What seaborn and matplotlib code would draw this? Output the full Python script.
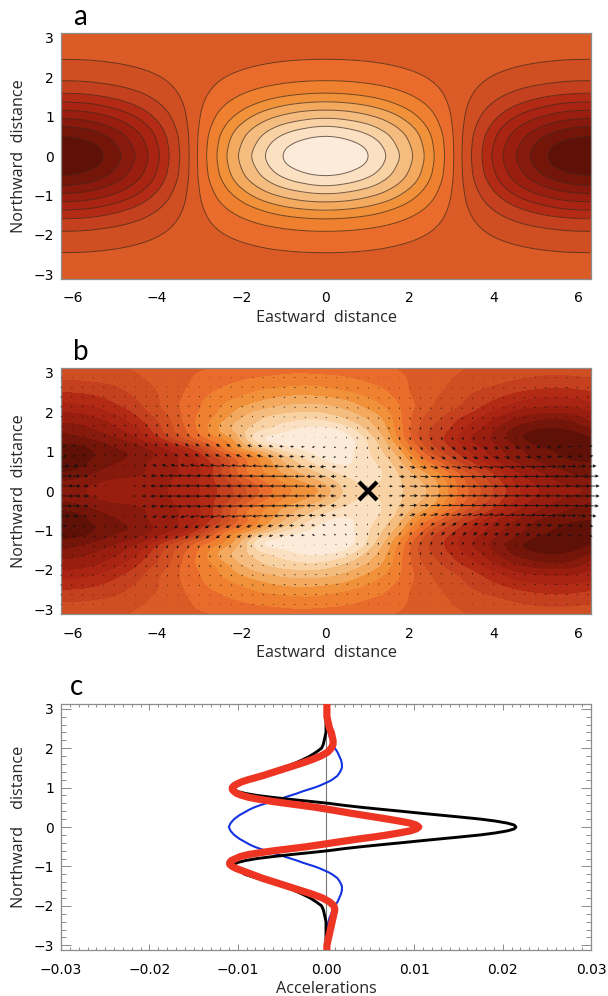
import numpy as np
import matplotlib
matplotlib.use('Agg')
import matplotlib.pyplot as plt
import matplotlib.tri as mtri
from matplotlib.colors import ListedColormap, BoundaryNorm
from matplotlib.ticker import MultipleLocator
import seaborn as sns

sns.set_theme(style='ticks')
plt.rcParams['font.family'] = ['DejaVu Sans']

# band colours, dark to light
band_colors = ['#5F1007', '#74150A', '#88190D', '#9A1E10', '#A92412', '#B42B15', '#C5401E', '#CF4E22', '#DA5B26',
               '#E96C2C', '#EF8030', '#F1923B', '#F3A95E', '#F5BC7F', '#F9D2A4', '#FBE0C2', '#FDEBDA']
band_edges = [-150, -88, -76, -64, -51, -39, -28, -16, -5, 5, 16, 28, 39, 51, 64, 76, 88, 150]
line_levels = [-88, -76, -64, -51, -39, -28, -16, -5, 5, 16, 28, 39, 51, 64, 76, 88]

grid_x = [-6.28, -5.76, -5.24, -4.71, -4.19, -3.67, -3.14, -2.62, -2.09, -1.57, -1.05, -0.52, 0,
          0.52, 1.05, 1.57, 2.09, 2.62, 3.14, 3.67, 4.19, 4.71, 5.24, 5.76, 6.28]
grid_y = [0, 0.26, 0.52, 0.79, 1.05, 1.31, 1.57, 1.83, 2.09, 2.36, 2.62, 2.88, 3.14]

# panel a height, northern half (percent of peak)
height_a = [
    [-100, -97, -87, -71, -50, -26, 0, 26, 50, 71, 87, 97, 100, 97, 87, 71, 50, 26, 0, -26, -50, -71, -87, -97, -100],
    [-97, -93, -84, -68, -48, -25, 0, 25, 48, 68, 84, 93, 97, 93, 84, 68, 48, 25, 0, -25, -48, -68, -84, -93, -97],
    [-87, -84, -76, -62, -44, -23, 0, 23, 44, 62, 76, 84, 87, 84, 76, 62, 44, 23, 0, -23, -44, -62, -76, -84, -87],
    [-74, -71, -64, -52, -37, -19, 0, 19, 37, 52, 64, 71, 74, 71, 64, 52, 37, 19, 0, -19, -37, -52, -64, -71, -74],
    [-58, -56, -50, -41, -29, -15, 0, 15, 29, 41, 50, 56, 58, 56, 50, 41, 29, 15, 0, -15, -29, -41, -50, -56, -58],
    [-42.5, -41, -36.8, -30, -21.3, -11, 0, 11, 21.3, 30, 36.8, 41, 42.5, 41, 36.8, 30, 21.3, 11, 0, -11, -21.3, -30, -36.8, -41, -42.5],
    [-29.1, -28.1, -25.2, -20.6, -14.6, -7.5, 0, 7.5, 14.6, 20.6, 25.2, 28.1, 29.1, 28.1, 25.2, 20.6, 14.6, 7.5, 0, -7.5, -14.6, -20.6, -25.2, -28.1, -29.1],
    [-18.6, -18, -16.1, -13.2, -9.3, -4.8, 0, 4.8, 9.3, 13.2, 16.1, 18, 18.6, 18, 16.1, 13.2, 9.3, 4.8, 0, -4.8, -9.3, -13.2, -16.1, -18, -18.6],
    [-11.2, -10.8, -9.7, -7.9, -5.6, -2.9, 0, 2.9, 5.6, 7.9, 9.7, 10.8, 11.2, 10.8, 9.7, 7.9, 5.6, 2.9, 0, -2.9, -5.6, -7.9, -9.7, -10.8, -11.2],
    [-6.2, -6, -5.4, -4.4, -3.1, -1.6, 0, 1.6, 3.1, 4.4, 5.4, 6, 6.2, 6, 5.4, 4.4, 3.1, 1.6, 0, -1.6, -3.1, -4.4, -5.4, -6, -6.2],
    [-3.3, -3.2, -2.9, -2.3, -1.7, -.9, 0, .9, 1.7, 2.3, 2.9, 3.2, 3.3, 3.2, 2.9, 2.3, 1.7, .9, 0, -.9, -1.7, -2.3, -2.9, -3.2, -3.3],
    [-1.6, -1.5, -1.4, -1.1, -.8, -.4, 0, .4, .8, 1.1, 1.4, 1.5, 1.6, 1.5, 1.4, 1.1, .8, .4, 0, -.4, -.8, -1.1, -1.4, -1.5, -1.6],
    [-.7, -.7, -.6, -.5, -.4, -.2, 0, .2, .4, .5, .6, .7, .7, .7, .6, .5, .4, .2, 0, -.2, -.4, -.5, -.6, -.7, -.7],
]

# panel b height, northern half (percent of peak)
height_b = [
    [-68, -65, -60, -58, -57, -50, -42, -30, -13, 5, 22, 32, 45, 68, 76, 70, 58, 42, 15, -5, -25, -42, -55, -62, -66],
    [-78, -72, -65, -62, -60, -52, -42, -28, -8, 12, 28, 40, 55, 72, 78, 70, 55, 38, 12, -10, -30, -48, -60, -70, -75],
    [-90, -85, -75, -70, -63, -55, -44, -26, 5, 25, 40, 56, 72, 82, 80, 68, 45, 25, 0, -22, -42, -58, -70, -78, -82],
    [-95, -92, -82, -75, -65, -55, -42, -22, 5, 28, 50, 72, 88, 90, 78, 60, 30, 3, -20, -40, -58, -72, -82, -88, -90],
    [-92, -92, -82, -75, -65, -50, -30, 0, 28, 52, 75, 88, 96, 92, 75, 50, 15, -15, -33, -50, -65, -78, -88, -92, -93],
    [-85, -80, -72, -62, -45, -22, 0, 20, 45, 82, 92, 98, 98, 92, 70, 38, 2, -22, -40, -58, -73, -88, -97, -96, -90],
    [-72, -68, -60, -48, -30, -8, 12, 35, 55, 72, 82, 90, 90, 80, 58, 32, 0, -20, -35, -52, -70, -84, -90, -88, -78],
    [-60, -58, -50, -38, -22, -5, 14, 30, 48, 62, 70, 74, 72, 62, 48, 28, 2, -14, -28, -42, -58, -70, -76, -75, -62],
    [-47, -45, -38, -28, -14, 0, 12, 25, 38, 48, 55, 58, 56, 48, 37, 23, 5, -8, -18, -30, -42, -52, -56, -56, -48],
    [-35, -33, -28, -20, -10, 0, 10, 20, 28, 35, 40, 42, 40, 35, 27, 17, 4, -5, -13, -22, -30, -37, -40, -40, -36],
    [-24, -23, -20, -14, -7, 0, 7, 14, 20, 25, 28, 30, 28, 24, 19, 12, 3, -3, -9, -15, -20, -25, -28, -28, -25],
    [-15, -14, -12, -9, -4, 0, 5, 9, 13, 16, 18, 19, 18, 16, 12, 8, 3, -2, -6, -10, -13, -16, -18, -18, -16],
    [-10, -9, -8, -5, -2, 0, 3, 5, 8, 10, 11, 12, 11, 10, 8, 5, 2, -1, -4, -6, -8, -10, -11, -11, -10],
]

# wind arrows, northern half, lengths in pixels
wind_x = [-6.25, -6, -5.75, -5.5, -5.25, -5, -4.75, -4.5, -4.25, -4, -3.75, -3.5, -3.25, -3, -2.75, -2.5, -2.25,
          -2, -1.75, -1.5, -1.25, -1, -0.75, -0.5, -0.25, 0, 0.25, 0.5, 0.75, 1, 1.25, 1.5, 1.75, 2, 2.25, 2.5,
          2.75, 3, 3.25, 3.5, 3.75, 4, 4.25, 4.5, 4.75, 5, 5.25, 5.5, 5.75, 6, 6.25]
wind_y = [0.125, 0.375, 0.625, 0.875, 1.125, 1.375, 1.625, 1.875, 2.125, 2.375, 2.625, 2.875]
wind_u = [
    [11, 8, 5.4, 3.4, 1.4, 0, -1.4, -2.7, -4.7, -6.8, -8.8, -10.8, -12.2, -13.5, -14.2, -14.9, -14.9, -14.9, -14.9, -14.9, -14.2, -13.5, -12.2, -10.8, -9.5, -8.1, -6.1, -4, -2, 0, 2, 4, 6.1, 8.1, 9.5, 10.8, 12.2, 13.5, 14.2, 14.9, 14.9, 14.9, 14.9, 14.9, 14.9, 14.2, 13.5, 12.8, 12.2, 11.5, 10.8],
    [10, 7.4, 5, 3.1, 1.2, 0, -1.2, -2.4, -4.3, -6.2, -8.1, -10, -11.2, -12.4, -13.1, -13.6, -13.6, -13.6, -13.6, -13.6, -13.1, -12.4, -11.2, -10, -8.6, -7.4, -5.5, -3.8, -1.9, 0, 1.9, 3.8, 5.5, 7.4, 8.6, 10, 11.2, 12.4, 13.1, 13.6, 13.6, 13.6, 13.6, 13.6, 13.6, 13.1, 12.4, 11.7, 11.2, 10.5, 10],
    [7.5, 5.6, 3.8, 2.4, .9, 0, -.9, -1.8, -3.3, -4.7, -6.1, -7.6, -8.5, -9.5, -9.9, -10.4, -10.4, -10.4, -10.4, -10.4, -9.9, -9.5, -8.5, -7.6, -6.6, -5.7, -4.3, -2.8, -1.4, 0, 1.4, 2.8, 4.3, 5.7, 6.6, 7.6, 8.5, 9.5, 9.9, 10.4, 10.4, 10.4, 10.4, 10.4, 10.4, 9.9, 9.5, 9, 8.5, 8, 7.6],
    [4.4, 3.3, 2.4, 1.7, .9, .5, -.2, -.6, -1.4, -2.1, -3, -3.8, -4.2, -4.8, -5.1, -5.4, -5.4, -5.6, -5.6, -5.7, -5.4, -5.3, -4.8, -4.4, -3.9, -3.5, -2.7, -2, -1.2, -.5, .3, 1, 1.8, 2.6, 3, 3.6, 4.2, 4.7, 5, 5.3, 5.4, 5.4, 5.6, 5.6, 5.7, 5.4, 5.3, 5.1, 4.8, 4.5, 4.4],
    [3.6, 2.8, 2.1, 1.5, .9, .5, .1, -.4, -1.1, -1.7, -2.3, -2.9, -3.4, -3.8, -4.1, -4.4, -4.5, -4.5, -4.6, -4.6, -4.4, -4.3, -4, -3.6, -3.3, -2.9, -2.3, -1.8, -1.2, -.5, .1, .7, 1.3, 1.9, 2.4, 2.8, 3.3, 3.7, 4, 4.3, 4.4, 4.5, 4.5, 4.6, 4.6, 4.4, 4.3, 4.2, 4, 3.7, 3.6],
    [.8, .5, .3, .1, 0, -.1, -.2, -.3, -.4, -.6, -.8, -1, -1, -1.1, -1.2, -1.2, -1.2, -1.1, -1.1, -1.1, -1.1, -1, -.9, -.8, -.6, -.5, -.3, -.2, 0, .1, .3, .5, .6, .7, .8, 1, 1.1, 1.1, 1.2, 1.2, 1.2, 1.2, 1.1, 1.1, 1.1, 1.1, 1, .9, .9, .8, .8],
    [-.9, -.9, -.8, -.8, -.7, -.6, -.5, -.3, -.2, -.1, 0, .1, .3, .4, .5, .6, .7, .8, .9, .9, 1, 1, 1, 1, 1, .9, .9, .8, .8, .7, .6, .5, .4, .2, .1, 0, -.1, -.3, -.4, -.5, -.6, -.7, -.8, -.8, -.9, -1, -1, -1, -1, -1, -1],
    [-1.5, -1.4, -1.3, -1.2, -1.1, -.9, -.7, -.6, -.4, -.2, 0, .2, .4, .6, .8, 1, 1.1, 1.2, 1.4, 1.5, 1.5, 1.6, 1.6, 1.6, 1.6, 1.5, 1.4, 1.3, 1.2, 1.1, .9, .8, .6, .4, .2, 0, -.2, -.4, -.6, -.8, -.9, -1.1, -1.2, -1.4, -1.4, -1.5, -1.6, -1.6, -1.6, -1.6, -1.5],
    [-1.9, -1.8, -1.7, -1.5, -1.3, -1.1, -.9, -.7, -.5, -.2, 0, .3, .5, .8, 1, 1.2, 1.4, 1.6, 1.7, 1.8, 1.9, 2, 2, 2, 2, 1.9, 1.8, 1.7, 1.5, 1.4, 1.2, 1, .7, .5, .2, 0, -.3, -.5, -.7, -1, -1.2, -1.4, -1.5, -1.7, -1.8, -1.9, -2, -2, -2, -2, -1.9],
    [-2, -1.9, -1.7, -1.6, -1.4, -1.2, -1, -.7, -.5, -.2, 0, .3, .6, .8, 1, 1.3, 1.5, 1.6, 1.8, 1.9, 2, 2.1, 2.1, 2.1, 2.1, 2, 1.9, 1.8, 1.6, 1.4, 1.2, 1, .8, .5, .3, 0, -.3, -.5, -.8, -1, -1.2, -1.4, -1.6, -1.8, -1.9, -2, -2.1, -2.1, -2.1, -2.1, -2],
    [-1.8, -1.7, -1.6, -1.4, -1.3, -1.1, -.9, -.7, -.4, -.2, 0, .3, .5, .7, .9, 1.1, 1.3, 1.5, 1.6, 1.7, 1.8, 1.9, 1.9, 1.9, 1.9, 1.8, 1.7, 1.6, 1.5, 1.3, 1.1, .9, .7, .5, .2, 0, -.2, -.5, -.7, -.9, -1.1, -1.3, -1.5, -1.6, -1.7, -1.8, -1.9, -1.9, -1.9, -1.9, -1.8],
    [-1.5, -1.4, -1.3, -1.2, -1.1, -.9, -.7, -.6, -.4, -.2, 0, .2, .4, .6, .8, 1, 1.1, 1.2, 1.4, 1.5, 1.5, 1.6, 1.6, 1.6, 1.6, 1.5, 1.4, 1.3, 1.2, 1.1, .9, .8, .6, .4, .2, 0, -.2, -.4, -.6, -.8, -.9, -1.1, -1.2, -1.4, -1.4, -1.5, -1.6, -1.6, -1.6, -1.6, -1.5],
]
wind_v = [
    [.1, .1, .2, .2, .2, .2, .3, .3, .3, .3, .3, .3, .3, .3, .3, .2, .2, .2, .2, .1, .1, .1, 0, 0, -.1, -.1, -.1, -.2, -.2, -.2, -.2, -.3, -.3, -.3, -.3, -.3, -.3, -.3, -.3, -.3, -.2, -.2, -.2, -.2, -.1, -.1, -.1, 0, 0, .1, .1],
    [.3, .4, .4, .5, .6, .7, .7, .8, .8, .8, .8, .8, .8, .7, .7, .6, .6, .5, .4, .3, .2, .1, 0, -.1, -.2, -.3, -.3, -.4, -.5, -.6, -.7, -.7, -.7, -.8, -.8, -.8, -.8, -.8, -.7, -.7, -.6, -.6, -.5, -.4, -.3, -.2, -.2, -.1, 0, .1, .2],
    [.6, .8, 1, 1.2, 1.3, 1.5, 1.6, 1.7, 1.8, 1.8, 1.8, 1.8, 1.7, 1.7, 1.6, 1.4, 1.3, 1.1, .9, .7, .5, .3, .1, -.1, -.4, -.6, -.8, -1, -1.2, -1.3, -1.5, -1.6, -1.7, -1.7, -1.8, -1.8, -1.8, -1.7, -1.7, -1.6, -1.5, -1.3, -1.1, -1, -.8, -.6, -.3, -.1, .1, .3, .5],
    [.9, 1.3, 1.6, 1.8, 2.1, 2.3, 2.5, 2.6, 2.7, 2.8, 2.8, 2.8, 2.7, 2.6, 2.4, 2.2, 2, 1.8, 1.5, 1.2, .8, .5, .1, -.2, -.6, -.9, -1.2, -1.5, -1.8, -2.1, -2.3, -2.5, -2.6, -2.7, -2.8, -2.8, -2.8, -2.7, -2.6, -2.5, -2.3, -2, -1.8, -1.5, -1.2, -.9, -.5, -.2, .2, .5, .9],
    [1.2, 1.6, 1.9, 2.3, 2.6, 2.9, 3.1, 3.3, 3.4, 3.5, 3.5, 3.5, 3.4, 3.2, 3, 2.8, 2.5, 2.2, 1.8, 1.4, 1, .6, .2, -.3, -.7, -1.1, -1.5, -1.9, -2.3, -2.6, -2.8, -3.1, -3.3, -3.4, -3.5, -3.5, -3.5, -3.4, -3.3, -3.1, -2.8, -2.6, -2.2, -1.9, -1.5, -1.1, -.7, -.2, .2, .6, 1.1],
    [1.2, 1.6, 1.9, 2.3, 2.6, 2.9, 3.1, 3.3, 3.4, 3.5, 3.5, 3.5, 3.4, 3.2, 3, 2.8, 2.5, 2.2, 1.8, 1.4, 1, .6, .2, -.3, -.7, -1.1, -1.5, -1.9, -2.3, -2.6, -2.8, -3.1, -3.3, -3.4, -3.5, -3.5, -3.5, -3.4, -3.3, -3.1, -2.8, -2.6, -2.2, -1.9, -1.5, -1.1, -.7, -.2, .2, .6, 1.1],
    [1, 1.4, 1.7, 2, 2.2, 2.5, 2.7, 2.8, 2.9, 3, 3, 3, 2.9, 2.8, 2.6, 2.4, 2.2, 1.9, 1.6, 1.2, .9, .5, .2, -.2, -.6, -1, -1.3, -1.6, -1.9, -2.2, -2.4, -2.6, -2.8, -2.9, -3, -3, -3, -2.9, -2.8, -2.6, -2.4, -2.2, -1.9, -1.6, -1.3, -.9, -.6, -.2, .2, .5, .9],
    [.8, 1.1, 1.4, 1.6, 1.9, 2.1, 2.2, 2.3, 2.4, 2.5, 2.5, 2.5, 2.4, 2.3, 2.2, 2, 1.8, 1.6, 1.3, 1, .7, .4, .1, -.2, -.5, -.8, -1.1, -1.4, -1.6, -1.8, -2, -2.2, -2.3, -2.4, -2.5, -2.5, -2.5, -2.4, -2.3, -2.2, -2, -1.8, -1.6, -1.3, -1.1, -.8, -.5, -.2, .1, .5, .8],
    [.7, .9, 1.1, 1.3, 1.5, 1.6, 1.8, 1.9, 1.9, 2, 2, 2, 1.9, 1.8, 1.7, 1.6, 1.4, 1.3, 1, .8, .6, .3, .1, -.2, -.4, -.6, -.9, -1.1, -1.3, -1.5, -1.6, -1.8, -1.9, -1.9, -2, -2, -2, -1.9, -1.9, -1.8, -1.6, -1.5, -1.3, -1.1, -.9, -.6, -.4, -.1, .1, .4, .6],
    [.5, .7, .9, 1, 1.2, 1.3, 1.4, 1.5, 1.6, 1.6, 1.6, 1.6, 1.5, 1.5, 1.4, 1.3, 1.1, 1, .8, .7, .5, .3, .1, -.1, -.3, -.5, -.7, -.9, -1, -1.2, -1.3, -1.4, -1.5, -1.6, -1.6, -1.6, -1.6, -1.5, -1.5, -1.4, -1.3, -1.2, -1, -.9, -.7, -.5, -.3, -.1, .1, .3, .5],
    [.4, .5, .7, .8, .9, 1, 1.1, 1.1, 1.2, 1.2, 1.2, 1.2, 1.2, 1.1, 1, 1, .9, .8, .6, .5, .4, .2, .1, -.1, -.2, -.4, -.5, -.7, -.8, -.9, -1, -1.1, -1.1, -1.2, -1.2, -1.2, -1.2, -1.2, -1.1, -1.1, -1, -.9, -.8, -.6, -.5, -.4, -.2, -.1, .1, .2, .4],
    [.3, .4, .4, .5, .6, .7, .7, .8, .8, .8, .8, .8, .8, .7, .7, .6, .6, .5, .4, .3, .2, .1, 0, -.1, -.2, -.3, -.3, -.4, -.5, -.6, -.7, -.7, -.7, -.8, -.8, -.8, -.8, -.8, -.7, -.7, -.6, -.6, -.5, -.4, -.3, -.2, -.2, -.1, 0, .1, .2],
]

# panel c profiles, y >= 0
profile_y = [0, .05, .1, .15, .2, .25, .3, .35, .4, .45, .5, .55, .6, .65, .7, .75, .8, .85, .9, .95, 1, 1.05, 1.1,
             1.15, 1.2, 1.25, 1.3, 1.4, 1.5, 1.6, 1.7, 1.8, 1.9, 2, 2.1, 2.2, 2.3, 2.4, 2.5, 2.6, 2.7, 2.8, 2.9, 3,
             3.1]
black_north = [.0215, .0213, .0205, .0192, .0175, .0153, .013, .0107, .0085, .0062, .004, .002, .0003, -.0018, -.004,
               -.006, -.0078, -.0091, -.01, -.0104, -.0105, -.0103, -.0098, -.0095, -.0092, -.0085, -.0078,
               -.0063, -.0048, -.0037, -.0027, -.0018, -.0011, -.0005, -.0003, -.0002, -.0001, 0, 0, 0, 0, 0, 0, 0, 0]
blue_north = [-.011, -.0109, -.0108, -.0106, -.0104, -.0101, -.0098, -.0094, -.009, -.0086, -.0081, -.0075, -.0068,
              -.0061, -.0054, -.0047, -.004, -.0033, -.0027, -.002, -.0013, -.0007, -.0002, .0003, .0007, .001, .0013,
              .0016, .0018, .0018, .0017, .0015, .0013, .001, .0008, .0006, .0004, .0003, .0002, .0001, .0001,
              0, 0, 0, 0]
red_north = [.0105, .0102, .0095, .0083, .007, .0056, .0042, .0028, .0015, .0002, -.0012, -.0028, -.0045, -.0061,
             -.0075, -.0087, -.0095, -.0101, -.0104, -.0106, -.0106, -.0104, -.01, -.0095, -.0088, -.008, -.0072,
             -.0058, -.0044, -.003, -.0017, -.0006, .0002, .0006, .0008, .0008, .0007, .0006, .0004, .0003, .0002,
             .0001, .0001, .0001, .0001]
red_south = [.0105, .0102, .0095, .0083, .007, .0055, .0038, .0023, .0008, -.0007, -.0022, -.004, -.0058, -.0074,
             -.0088, -.0097, -.0102, -.0107, -.0109, -.0109, -.0106, -.0102, -.0096, -.009, -.0084, -.0078, -.0072,
             -.0058, -.0044, -.003, -.0016, -.0004, .0004, .0009, .001, .0009, .0008, .0007, .0006, .0005, .0004,
             .0003, .0002, .0001, .0001]

axis_gray = '#8c8c8c'
label_font = ['Open Sans', 'DejaVu Sans']
FIG_W, FIG_H = 608, 996


def axes_box(left, top, right, bottom):
    return [left / FIG_W, 1 - bottom / FIG_H, (right - left) / FIG_W, (bottom - top) / FIG_H]


def style_axes(ax, xmajor, xminor, xlabel, ylabel, tick_color='#222222', tick_width=0.8):
    ax.xaxis.set_major_locator(MultipleLocator(xmajor))
    ax.xaxis.set_minor_locator(MultipleLocator(xminor))
    ax.yaxis.set_major_locator(MultipleLocator(1))
    ax.yaxis.set_minor_locator(MultipleLocator(0.2))
    ax.tick_params(which='both', direction='in', top=True, right=True, color=tick_color, width=tick_width,
                   labelsize=10, labelcolor='black')
    ax.tick_params(axis='y', which='major', length=7, pad=5)
    ax.tick_params(axis='y', which='minor', length=3.5)
    ax.tick_params(axis='x', which='major', length=4.5, pad=9)
    ax.tick_params(axis='x', which='minor', length=2.2)
    for spine in ax.spines.values():
        spine.set_color(axis_gray)
        spine.set_linewidth(0.9)
    ax.set_xlabel(xlabel, fontsize=11.6, family=label_font, labelpad=3)
    ax.set_ylabel(ylabel, fontsize=11.6, family=label_font, labelpad=5)


def mirrored(rows):
    rows = np.array(rows, dtype=float)
    return np.vstack([rows[:0:-1], rows])


fig = plt.figure(figsize=(FIG_W / 100, FIG_H / 100), dpi=100)
cmap = ListedColormap(band_colors)
norm = BoundaryNorm(band_edges, cmap.N)
field_y = np.concatenate([-np.array(grid_y[:0:-1]), grid_y])
mesh_x, mesh_y = np.meshgrid(grid_x, field_y)
triang = mtri.Triangulation(mesh_x.ravel(), mesh_y.ravel())
# rounds off the facets of the contours drawn from the read grid
refiner = mtri.UniformTriRefiner(triang)

# panel a
fine_tri, fine_a = refiner.refine_field(mirrored(height_a).ravel(), subdiv=3)
ax_a = fig.add_axes(axes_box(61, 33, 591, 279))
ax_a.tricontourf(fine_tri, fine_a, levels=band_edges, cmap=cmap, norm=norm)
ax_a.tricontour(fine_tri, fine_a, levels=line_levels, colors='#3a2418', linewidths=0.7, alpha=0.7,
                linestyles='solid')
ax_a.set_xlim(-6.28, 6.3)
ax_a.set_ylim(-3.12, 3.12)
style_axes(ax_a, 2, 0.5, 'Eastward  distance', 'Northward  distance')

# panel b
fine_tri, fine_b = refiner.refine_field(mirrored(height_b).ravel(), subdiv=3)
ax_b = fig.add_axes(axes_box(61, 368, 591, 614))
ax_b.tricontourf(fine_tri, fine_b, levels=band_edges, cmap=cmap, norm=norm)
north_y = np.array(wind_y)
arrow_y = np.concatenate([-north_y[::-1], north_y])
arrow_u = np.vstack([np.array(wind_u)[::-1], np.array(wind_u)])
arrow_v = np.vstack([-np.array(wind_v)[::-1], np.array(wind_v)])
ax_b.quiver(wind_x, arrow_y, arrow_u, arrow_v, angles='uv', scale_units='dots', scale=1, units='dots', width=0.8,
            headwidth=4.5, headlength=4.5, headaxislength=4, minshaft=1.5, color='#111111', pivot='tail',
            clip_on=False, zorder=3)
ax_b.plot([1], [0], marker='x', markersize=13, markeredgewidth=3, color='black', zorder=4)
ax_b.set_xlim(-6.28, 6.3)
ax_b.set_ylim(-3.12, 3.12)
style_axes(ax_b, 2, 0.5, 'Eastward  distance', 'Northward  distance')

# panel c
ax_c = fig.add_axes(axes_box(61, 704, 591, 950))
py = np.array(profile_y)
full_y = np.concatenate([-py[:0:-1], py])
black_line = np.concatenate([np.array(black_north)[:0:-1], black_north])
blue_line = np.concatenate([np.array(blue_north)[:0:-1], blue_north])
red_line = np.concatenate([np.array(red_south)[:0:-1], red_north])
ax_c.axvline(0, color='#777777', lw=0.8, zorder=1)
sns.lineplot(x=blue_line, y=full_y, orient='y', sort=False, color='#1433e0', lw=1.5, ax=ax_c, zorder=2)
sns.lineplot(x=black_line, y=full_y, orient='y', sort=False, color='black', lw=2.1, ax=ax_c, zorder=3)
sns.lineplot(x=red_line, y=full_y, orient='y', sort=False, color='#EE3524', lw=5.2, ax=ax_c, zorder=4,
             solid_joinstyle='round')
ax_c.set_xlim(-0.03, 0.03)
ax_c.set_ylim(-3.12, 3.12)
style_axes(ax_c, 0.01, 0.001, 'Accelerations', 'Northward    distance', tick_color='#777777', tick_width=0.6)
ax_c.xaxis.set_major_formatter(plt.FuncFormatter(lambda v, p: f'{v:.2f}'.replace('-', '\u2212')))

# panel letters
for letter, px, py_base in [('a', 73, 25), ('b', 73, 360), ('c', 70, 695)]:
    fig.text(px / FIG_W, 1 - py_base / FIG_H, letter, fontsize=20, family=['Lato', 'DejaVu Sans'], color='black',
             fontweight='normal', va='baseline')

fig.savefig('out.png', dpi=100)
